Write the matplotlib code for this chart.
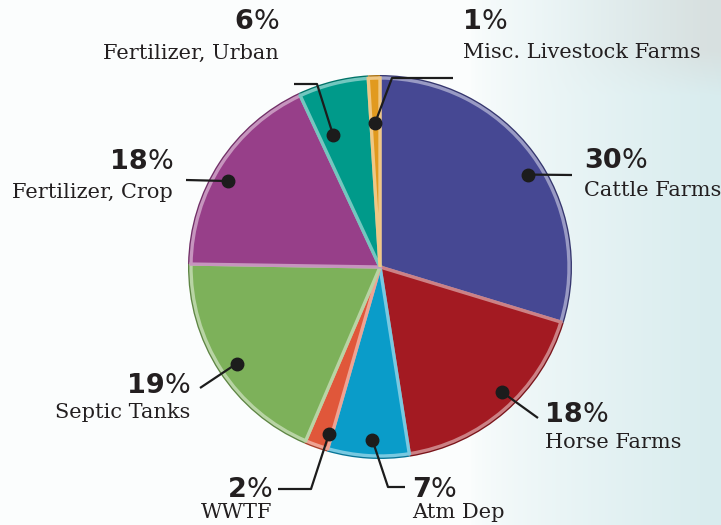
import numpy as np
import matplotlib.pyplot as plt
from matplotlib.colors import to_rgb

# data (clockwise from 12 o'clock)
sources = ['Cattle Farms', 'Horse Farms', 'Atm Dep', 'WWTF', 'Septic Tanks',
           'Fertilizer, Crop', 'Fertilizer, Urban', 'Misc. Livestock Farms']
shares = [30, 18, 7, 2, 19, 18, 6, 1]
colors = ['#464893', '#a31a22', '#0a9cc9', '#e0573a', '#7db15a',
          '#973f89', '#009a8a', '#e19a1f']

W, H = 721, 525
CX, CY, R = 380, H - 267, 192


def mix(c, other, t):
    a, b = np.array(to_rgb(c)), np.array(to_rgb(other))
    return tuple(a * (1 - t) + b * t)


fig = plt.figure(figsize=(W / 100, H / 100), dpi=100)

# soft background: white fading to pale cyan on the right, hazy photo top right
bg = fig.add_axes([0, 0, 1, 1])
gx, gy = np.meshgrid(np.arange(W), np.arange(H))
ramp = np.clip((gx - 470) / 250, 0, 1) ** 0.7
base = np.array(to_rgb('#fbfdfd')) * (1 - ramp[..., None]) + np.array(to_rgb('#d8ecee')) * ramp[..., None]
haze = np.clip((gx - 520) / 180, 0, 1) ** 1.5 * np.clip((95 - gy) / 45, 0, 1)
img = base * (1 - 0.4 * haze[..., None]) + np.array(to_rgb('#d6cfcb')) * 0.4 * haze[..., None]
bg.imshow(img, aspect='auto', extent=[0, W, H, 0])
bg.axis('off')

ax = fig.add_axes([0, 0, 1, 1])
ax.patch.set_alpha(0)

# dark rim, then the slices with a light bevel edge
ax.pie(shares, colors=[mix(c, 'black', 0.25) for c in colors], radius=R,
       center=(CX, CY), startangle=90, counterclock=False,
       wedgeprops=dict(linewidth=0))
wedges, _ = ax.pie(shares, colors=colors, radius=R - 3, center=(CX, CY),
                   startangle=90, counterclock=False,
                   wedgeprops=dict(linewidth=2.4, edgecolor='none'))
for w, c in zip(wedges, colors):
    w.set_edgecolor(mix(c, 'white', 0.45))

ax.set_xlim(0, W)
ax.set_ylim(0, H)
ax.set_aspect('equal')
ax.axis('off')

# label layout: dot radius fraction, angle nudge, leader path, text anchor
layout = {
    'Cattle Farms':          (0.91, -4.6, [(572, 175)], (584, 'left')),
    'Horse Farms':           (0.91, 3.3, [(538, 418)], (545, 'left')),
    'Atm Dep':               (0.90, 1.0, [(388, 487), (405, 487)], (412, 'left')),
    'WWTF':                  (0.91, 2.6, [(311, 489), (278, 489)], (272, 'right')),
    'Septic Tanks':          (0.90, 1.0, [(200, 388)], (190, 'right')),
    'Fertilizer, Crop':      (0.91, 3.5, [(186, 180)], (173, 'right')),
    'Fertilizer, Urban':     (0.73, 5.3, [(317, 84), (294, 84)], (279, 'right')),
    'Misc. Livestock Farms': (0.75, 0.2, [(392, 78), (453, 78)], (463, 'left')),
}
text_y = {
    'Cattle Farms': (161, 190), 'Horse Farms': (415, 442),
    'Atm Dep': (490, 513), 'WWTF': (490, 513),
    'Septic Tanks': (386, 413), 'Fertilizer, Crop': (162, 192),
    'Fertilizer, Urban': (22, 53), 'Misc. Livestock Farms': (22, 53),
}

for w, name, val in zip(wedges, sources, shares):
    frac, nudge, path, (tx, ha) = layout[name]
    mid = np.deg2rad((w.theta1 + w.theta2) / 2 + nudge)
    dx = CX + frac * R * np.cos(mid)
    dy = CY + frac * R * np.sin(mid)
    px = [dx] + [p[0] for p in path]
    py = [dy] + [H - p[1] for p in path]
    ax.plot(px, py, color='#1c1c1c', lw=1.6, solid_capstyle='butt', zorder=5)
    ax.plot(dx, dy, 'o', color='#1c1c1c', ms=9, zorder=6)

    y_pct, y_lab = text_y[name]
    num_kw = dict(fontsize=19.5, color='#231f20', va='center', zorder=7,
                  family='DejaVu Sans')
    if ha == 'left':
        t = ax.text(tx, H - y_pct, str(val), fontweight='bold', ha='left', **num_kw)
        ax.annotate('%', xy=(1, 0.5), xycoords=t, ha='left', **num_kw)
    else:
        t = ax.text(tx, H - y_pct, '%', ha='right', **num_kw)
        ax.annotate(str(val), xy=(0, 0.5), xycoords=t, ha='right',
                    fontweight='bold', **num_kw)
    ax.text(tx, H - y_lab, name, ha=ha, va='center', fontsize=15,
            family='DejaVu Serif', color='#231f20', zorder=7)

fig.savefig('out.png', dpi=100)
